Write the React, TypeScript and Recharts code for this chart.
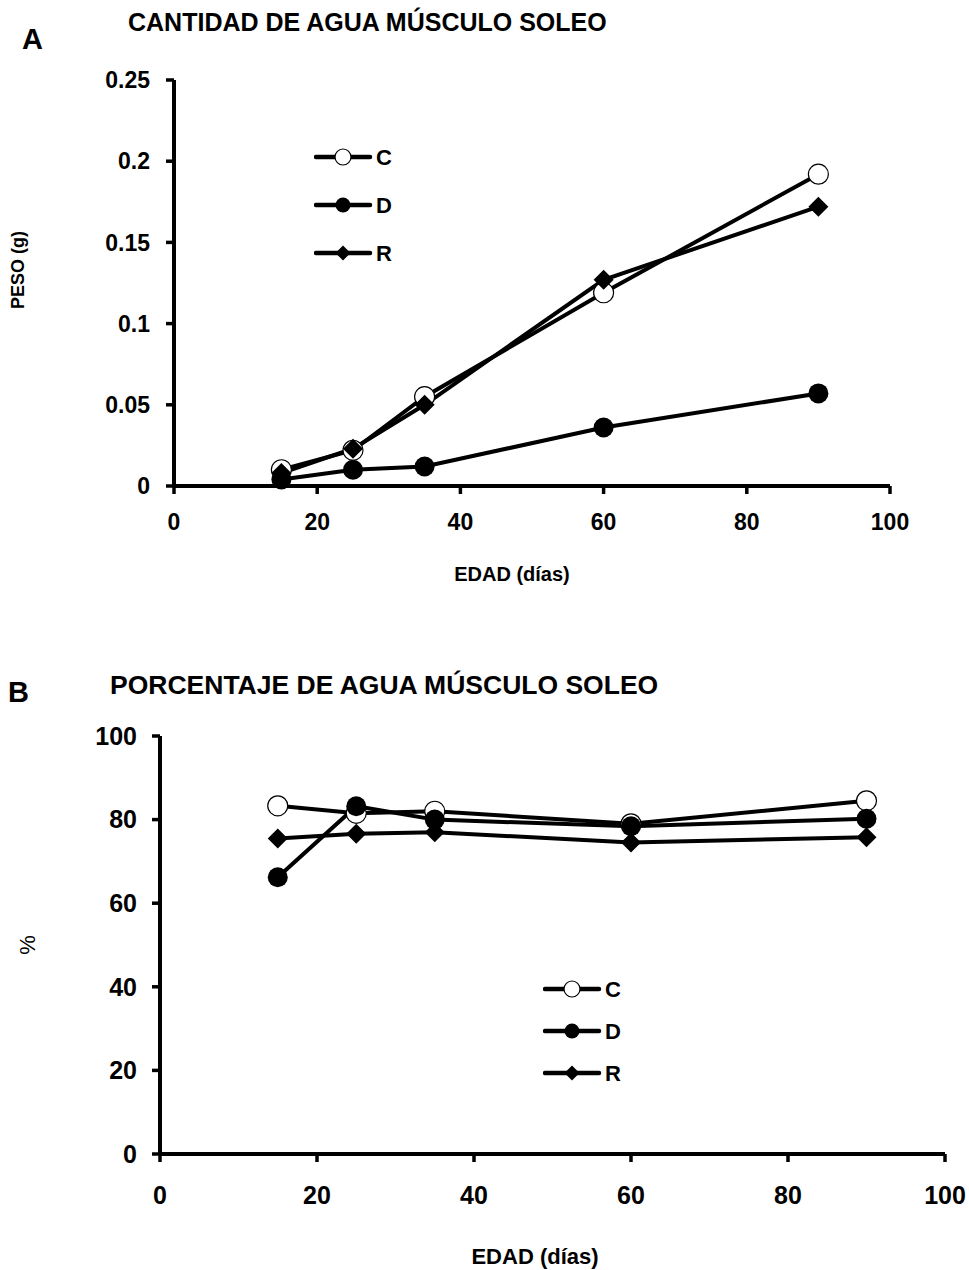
import React from "react"
import { LineChart, Line, XAxis, YAxis } from "recharts"

const ages = [15, 25, 35, 60, 90]

// A: cantidad de agua (g)
const pesoC = [0.01, 0.022, 0.055, 0.119, 0.192]
const pesoD = [0.004, 0.01, 0.012, 0.036, 0.057]
const pesoR = [0.008, 0.023, 0.05, 0.127, 0.172]

// B: porcentaje de agua
const pctC = [83.3, 81.5, 82.0, 79.0, 84.5]
const pctD = [66.2, 83.2, 80.0, 78.4, 80.2]
const pctR = [75.5, 76.6, 77.0, 74.5, 75.8]

const xTicks = [0, 20, 40, 60, 80, 100]
const pesoTicks = [0, 0.05, 0.1, 0.15, 0.2, 0.25]
const pctTicks = [0, 20, 40, 60, 80, 100]

const SERIES = ["C", "D", "R"]

const boldFont = "'Liberation Sans', Arial, sans-serif"
const tickFont = { fill: "#000", fontSize: 23, fontWeight: 700, fontFamily: boldFont }
const axisLine = { stroke: "#000", strokeWidth: 4 }
const tickLine = { stroke: "#000", strokeWidth: 3.5 }

function Marker({ kind, cx, cy, r = 10 }: { kind: string; cx: number; cy: number; r?: number }) {
  if (cx == null || cy == null) return null
  if (kind === "C") return <circle cx={cx} cy={cy} r={r} fill="#fff" stroke="#000" strokeWidth={1.2} />
  if (kind === "D") return <circle cx={cx} cy={cy} r={r} fill="#000" />
  return (
    <polygon
      points={`${cx},${cy - r} ${cx + r},${cy} ${cx},${cy + r} ${cx - r},${cy}`}
      fill="#000"
    />
  )
}

function makeDot(kind: string) {
  return (props: any) => <Marker key={`${kind}-${props.index}`} kind={kind} cx={props.cx} cy={props.cy} />
}

// legend drawn by hand, same look as the original figure
function LegendBox({ left, top, gap }: { left: number; top: number; gap: number }) {
  return (
    <svg width={90} height={gap * 2 + 30} style={{ position: "absolute", left, top }}>
      {SERIES.map((s, i) => {
        const y = 15 + i * gap
        return (
          <g key={s}>
            <line x1={2} x2={56} y1={y} y2={y} stroke="#000" strokeWidth={4.5} strokeLinecap="round" />
            <Marker kind={s} cx={29} cy={y} r={s === "C" ? 8 : 7.5} />
            <text x={62} y={y + 8} fontSize={22} fontWeight={700} fontFamily={boldFont}>
              {s}
            </text>
          </g>
        )
      })}
    </svg>
  )
}

const Label = ({ style, children }: { style: React.CSSProperties; children: React.ReactNode }) => (
  <div
    style={{
      position: "absolute",
      fontFamily: boldFont,
      fontWeight: 700,
      color: "#000",
      whiteSpace: "nowrap",
      lineHeight: 1,
      ...style,
    }}
  >
    {children}
  </div>
)

export default function App() {
  const dataA = ages.map((a, i) => ({ age: a, C: pesoC[i], D: pesoD[i], R: pesoR[i] }))
  const dataB = ages.map((a, i) => ({ age: a, C: pctC[i], D: pctD[i], R: pctR[i] }))

  return (
    <div style={{ position: "absolute", left: 0, top: 0, width: 969, height: 1270, background: "#fff" }}>
      <div style={{ position: "absolute", left: 0, top: 0 }}>
        <LineChart width={969} height={600} data={dataA} margin={{ top: 80, right: 79, left: 0, bottom: 0 }}>
          <XAxis
            dataKey="age"
            type="number"
            domain={[0, 100]}
            ticks={xTicks}
            height={114}
            tick={tickFont}
            tickSize={8}
            tickMargin={20}
            axisLine={axisLine}
            tickLine={tickLine}
          />
          <YAxis
            type="number"
            domain={[0, 0.25]}
            ticks={pesoTicks}
            width={174}
            tick={tickFont}
            tickSize={8}
            tickMargin={16}
            tickFormatter={(v: number) => String(v)}
            axisLine={axisLine}
            tickLine={tickLine}
          />
          {SERIES.map((s) => (
            <Line
              key={s}
              dataKey={s}
              stroke="#000"
              strokeWidth={4}
              dot={makeDot(s)}
              activeDot={false}
              isAnimationActive={false}
            />
          ))}
        </LineChart>
      </div>
      <LegendBox left={314} top={142} gap={48} />

      <Label style={{ left: 22, top: 25, fontSize: 29 }}>A</Label>
      <Label style={{ left: 128, top: 10, fontSize: 25 }}>CANTIDAD DE AGUA MÚSCULO SOLEO</Label>
      <Label
        style={{
          left: 18,
          top: 270,
          fontSize: 18,
          transform: "translate(-50%, -50%) rotate(-90deg)",
        }}
      >
        PESO (g)
      </Label>
      <Label style={{ left: 512, top: 564, fontSize: 20, transform: "translateX(-50%)" }}>
        EDAD (días)
      </Label>

      <div style={{ position: "absolute", left: 0, top: 640 }}>
        <LineChart width={969} height={630} data={dataB} margin={{ top: 96, right: 24, left: 0, bottom: 0 }}>
          <XAxis
            dataKey="age"
            type="number"
            domain={[0, 100]}
            ticks={xTicks}
            height={116}
            tick={{ ...tickFont, fontSize: 25 }}
            tickSize={8}
            tickMargin={24}
            axisLine={axisLine}
            tickLine={tickLine}
          />
          <YAxis
            type="number"
            domain={[0, 100]}
            ticks={pctTicks}
            width={160}
            tick={{ ...tickFont, fontSize: 25 }}
            tickSize={8}
            tickMargin={15}
            axisLine={axisLine}
            tickLine={tickLine}
          />
          {SERIES.map((s) => (
            <Line
              key={s}
              dataKey={s}
              stroke="#000"
              strokeWidth={4}
              dot={makeDot(s)}
              activeDot={false}
              isAnimationActive={false}
            />
          ))}
        </LineChart>
      </div>
      <LegendBox left={543} top={974} gap={42} />

      <Label style={{ left: 8, top: 678, fontSize: 29 }}>B</Label>
      <Label style={{ left: 110, top: 672, fontSize: 26.5 }}>PORCENTAJE DE AGUA MÚSCULO SOLEO</Label>
      <Label
        style={{
          left: 28,
          top: 945,
          fontSize: 22,
          fontWeight: 400,
          transform: "translate(-50%, -50%) rotate(-90deg)",
        }}
      >
        %
      </Label>
      <Label style={{ left: 535, top: 1246, fontSize: 22, transform: "translateX(-50%)" }}>
        EDAD (días)
      </Label>
    </div>
  )
}
